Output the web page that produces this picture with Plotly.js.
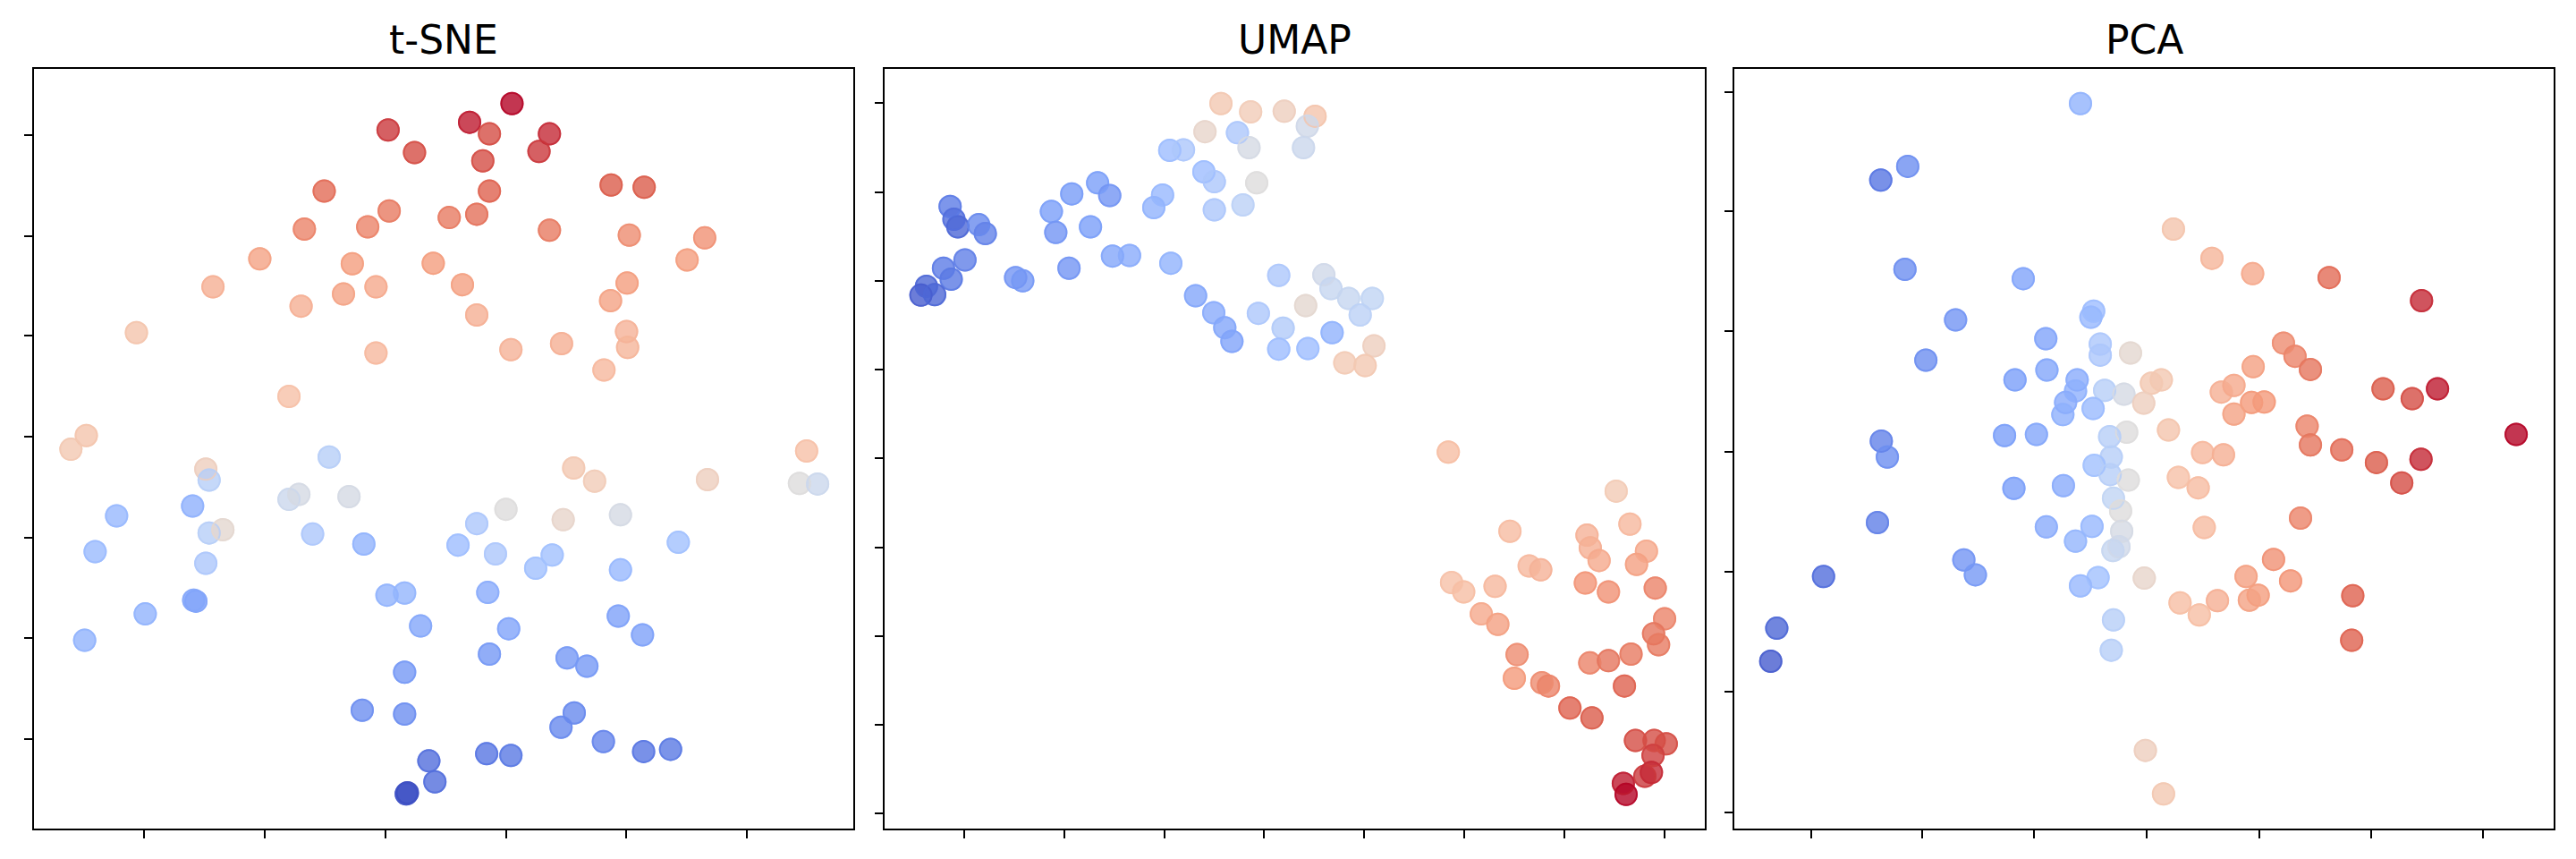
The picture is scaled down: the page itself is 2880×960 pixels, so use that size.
<!DOCTYPE html>
<html>
<head>
<meta charset="utf-8">
<script src="https://cdn.plot.ly/plotly-3.0.1.min.js"></script>
<style>
  html, body { margin: 0; padding: 0; background: #fff; }
  #plot { width: 2880px; height: 960px; }
</style>
</head>
<body>
<div id="plot"></div>
<script>
// embedding coordinates (arbitrary units, no tick labels)
// colour value is the shared 0..1 variable mapped through coolwarm

var tsneX = [93.0,85.3,70.5,88.9,99.8,75.3,97.9,87.7,58.9,88.9,111.0,117.0,70.7,81.6,86.6,55.3,66.8,99.8,114.3,128.0,
  47.2,64.0,78.7,124.8,38.7,68.3,84.0,113.9,62.4,54.7,110.9,86.6,24.8,113.8,114.0,68.3,92.8,102.0,109.7,52.5,
  15.7,12.9,146.5,59.8,37.4,38.0,104.2,108.0,128.5,145.2,148.5,52.5,54.3,63.4,35.0,21.2,91.9,102.3,112.7,86.6,
  38.0,40.5,56.8,66.1,17.3,83.2,90.0,100.3,123.2,37.4,97.3,112.7,35.6,26.4,70.3,73.5,88.6,15.4,76.4,92.4,
  112.3,116.7,88.9,103.0,106.6,73.5,65.8,73.5,104.3,101.9,109.6,116.9,121.8,88.4,92.8,77.9,79.0,74.0,35.2,73.8];
var tsneY = [-18.8,-22.2,-23.6,-24.3,-24.3,-27.7,-27.5,-29.2,-34.7,-34.7,-33.6,-34.0,-38.3,-39.5,-38.9,-41.6,-41.2,-41.8,-42.7,-43.2,
  -47.0,-47.9,-47.8,-47.2,-52.1,-52.1,-51.7,-51.4,-53.4,-55.6,-54.6,-57.2,-60.4,-60.2,-63.1,-64.1,-63.5,-62.4,-67.2,-72.0,
  -79.1,-81.6,-81.9,-83.0,-85.2,-87.2,-85.0,-87.4,-87.1,-87.8,-87.9,-90.7,-89.8,-90.2,-91.9,-93.7,-92.5,-94.4,-93.5,-95.1,
  -96.8,-96.2,-97.0,-98.8,-100.2,-99.0,-100.6,-100.8,-98.5,-102.3,-103.2,-103.5,-109.2,-111.5,-108.1,-107.7,-107.6,-116.3,-113.7,-114.2,
  -111.9,-115.3,-118.8,-119.5,-121.0,-122.1,-129.0,-129.7,-129.5,-132.1,-134.7,-136.5,-136.1,-136.9,-137.2,-138.2,-142.0,-144.0,-109.0,-144.2];
var tsneC = [1.0,0.97,0.93,0.9,0.95,0.9,0.93,0.9,0.85,0.87,0.88,0.88,0.82,0.82,0.84,0.8,0.8,0.82,0.78,0.77,
  0.72,0.74,0.74,0.74,0.68,0.7,0.73,0.74,0.72,0.68,0.72,0.68,0.6,0.67,0.66,0.65,0.67,0.68,0.65,0.62,
  0.6,0.58,0.62,0.42,0.55,0.42,0.58,0.56,0.55,0.5,0.46,0.46,0.48,0.48,0.32,0.35,0.5,0.53,0.48,0.4,
  0.42,0.52,0.4,0.33,0.36,0.37,0.4,0.38,0.38,0.4,0.38,0.35,0.27,0.33,0.33,0.34,0.3,0.33,0.28,0.27,
  0.26,0.26,0.23,0.23,0.23,0.23,0.2,0.2,0.18,0.18,0.17,0.12,0.13,0.12,0.13,0.1,0.1,0.0,0.28,0.02];

var umapX = [65.8,71.2,77.3,82.9,81.5,62.9,68.8,70.9,80.8,56.5,59.0,62.7,64.6,72.3,55.2,53.6,64.6,69.8,16.6,17.3,
  18.0,21.8,23.0,35.0,38.7,43.4,45.6,35.8,42.1,19.3,15.4,16.8,12.3,11.3,13.8,28.5,29.8,38.2,46.1,49.2,
  56.7,61.2,64.5,66.5,67.8,76.3,84.5,85.8,89.0,93.3,72.6,81.2,91.1,77.1,86.0,76.3,81.6,93.6,88.3,92.0,
  107.1,137.6,118.3,140.1,132.3,132.9,143.1,134.5,121.8,123.9,141.3,107.7,109.9,115.6,132.0,136.2,144.7,113.1,116.1,146.4,
  144.4,145.3,119.6,132.8,136.2,140.3,119.1,124.1,125.3,139.1,129.2,133.2,141.1,144.5,146.7,144.3,138.9,142.8,144.0,139.4];
var umapY = [-18.8,-20.3,-20.2,-21.1,-22.9,-23.9,-24.1,-26.8,-26.8,-27.3,-27.2,-31.2,-33.0,-33.2,-35.4,-37.7,-38.1,-37.2,-37.5,-39.8,
  -41.2,-40.8,-42.4,-38.4,-35.2,-33.2,-35.5,-42.2,-41.2,-47.2,-48.7,-50.7,-52.0,-53.6,-53.5,-50.4,-51.0,-48.7,-46.5,-46.4,
  -47.8,-53.7,-56.8,-59.5,-62.0,-50.0,-49.9,-52.4,-54.2,-54.2,-56.9,-55.5,-57.2,-59.6,-60.4,-63.4,-63.3,-62.8,-65.9,-66.4,
  -82.1,-89.2,-96.5,-95.2,-97.2,-99.5,-100.1,-101.8,-102.8,-103.5,-102.5,-105.8,-107.5,-106.5,-105.9,-107.5,-106.8,-111.5,-113.4,-112.4,
  -115.1,-117.1,-118.9,-120.4,-120.0,-118.8,-123.2,-124.0,-124.6,-124.6,-128.6,-130.4,-134.5,-134.5,-135.1,-137.2,-142.3,-141.0,-140.3,-144.3];
var umapC = [0.58,0.56,0.55,0.6,0.47,0.53,0.4,0.48,0.46,0.37,0.4,0.37,0.4,0.5,0.35,0.33,0.4,0.43,0.14,0.1,
  0.08,0.18,0.16,0.25,0.24,0.25,0.22,0.22,0.25,0.15,0.14,0.13,0.08,0.05,0.08,0.22,0.23,0.22,0.28,0.3,
  0.33,0.28,0.3,0.28,0.27,0.4,0.47,0.45,0.45,0.44,0.4,0.52,0.43,0.41,0.33,0.37,0.37,0.55,0.57,0.58,
  0.63,0.57,0.64,0.65,0.67,0.68,0.7,0.7,0.65,0.67,0.73,0.62,0.63,0.65,0.76,0.77,0.8,0.7,0.73,0.8,
  0.83,0.82,0.78,0.8,0.83,0.82,0.75,0.78,0.8,0.87,0.87,0.88,0.9,0.9,0.9,0.92,0.97,0.93,0.95,1.0];

var pcaX = [66.0,34.6,29.7,82.9,89.9,97.3,111.2,34.1,55.6,128.0,68.4,67.9,43.3,59.7,69.6,69.6,75.1,102.9,105.0,107.8,
  37.9,59.9,97.4,54.1,65.4,65.1,70.4,73.9,78.9,80.7,91.6,93.9,121.0,130.9,126.3,63.3,62.8,68.3,77.5,97.1,
  99.4,93.9,74.4,82.0,71.3,107.2,145.2,29.8,30.9,52.2,58.0,71.6,68.5,71.4,74.7,88.2,92.0,107.8,113.5,119.8,
  127.9,124.4,83.8,87.4,53.9,62.9,72.0,73.3,29.1,59.8,68.1,65.1,73.5,73.0,71.9,88.5,106.0,44.8,46.9,19.3,
  69.2,66.0,77.6,101.1,96.1,104.2,98.3,96.7,90.9,84.1,87.6,115.5,72.0,10.8,71.6,115.3,9.7,77.8,81.1];
var pcaY = [-18.8,-30.2,-32.7,-41.6,-46.9,-49.7,-50.4,-48.9,-50.6,-54.6,-56.5,-57.6,-58.1,-61.5,-62.5,-64.5,-64.1,-62.3,-64.7,-67.1,
  -65.4,-67.2,-66.6,-69.0,-69.0,-71.0,-70.9,-71.6,-69.6,-69.0,-71.2,-70.0,-70.6,-70.6,-72.4,-73.1,-75.3,-74.2,-73.2,-73.1,
  -73.0,-75.2,-78.5,-78.1,-79.3,-77.4,-78.9,-80.1,-83.0,-79.1,-78.9,-83.0,-84.5,-86.2,-87.2,-82.2,-82.6,-80.8,-81.7,-84.0,
  -83.4,-87.7,-86.7,-88.6,-88.7,-88.2,-90.5,-92.8,-94.9,-95.7,-95.6,-98.3,-96.5,-99.3,-100.0,-95.8,-94.1,-101.7,-104.4,-104.7,
  -104.9,-106.4,-105.0,-101.6,-104.7,-105.5,-108.1,-109.0,-109.1,-109.5,-111.7,-108.2,-112.6,-114.1,-118.1,-116.3,-120.1,-136.3,-144.2];
var pcaC = [0.33,0.2,0.12,0.6,0.66,0.7,0.85,0.2,0.27,0.95,0.37,0.35,0.22,0.27,0.4,0.4,0.52,0.78,0.8,0.83,
  0.2,0.28,0.73,0.25,0.3,0.32,0.42,0.48,0.58,0.58,0.68,0.7,0.88,0.97,0.9,0.3,0.32,0.36,0.55,0.75,
  0.75,0.72,0.5,0.6,0.42,0.8,1.0,0.16,0.2,0.25,0.28,0.42,0.38,0.42,0.5,0.65,0.68,0.83,0.85,0.88,
  0.95,0.9,0.62,0.64,0.25,0.3,0.44,0.5,0.15,0.3,0.35,0.34,0.48,0.47,0.45,0.64,0.8,0.22,0.23,0.1,
  0.38,0.35,0.53,0.77,0.73,0.76,0.74,0.72,0.68,0.63,0.63,0.87,0.42,0.08,0.42,0.87,0.05,0.55,0.58];

var panelTitles = ['t-SNE', 'UMAP', 'PCA'];

// axis extents and tick positions (unlabelled ticks, like the reference)
var xRanges = [[6.2, 155.0], [4.7, 153.7], [3.1, 152.0]];
var yRange = [-150.5, -12.5];
var xTicks = [
  [26.1, 48.1, 70.0, 91.9, 113.8, 135.7],
  [19.2, 37.3, 55.5, 73.6, 91.8, 110.0, 128.2, 146.4],
  [17.0, 37.2, 57.6, 78.0, 98.5, 118.8, 139.1]
];
var yTicks = [
  [-24.6, -42.9, -61.0, -79.3, -97.6, -115.9, -134.2],
  [-18.7, -34.9, -51.1, -67.1, -83.2, -99.4, -115.5, -131.6, -147.7],
  [-16.7, -38.3, -60.2, -82.0, -103.8, -125.7, -147.5]
];

var coolwarm = [
  [0.0, '#3b4cc0'], [0.125, '#5977e3'], [0.25, '#7b9ff9'], [0.375, '#9ebeff'],
  [0.4375, '#c0d4f5'], [0.5, '#dddcdc'], [0.5625, '#f2cbb7'], [0.625, '#f6bfa6'],
  [0.75, '#f49a7b'], [0.875, '#dd604d'], [1.0, '#b40426']
];

var xDomains = [[0.0132, 0.3313], [0.3434, 0.6618], [0.6733, 0.9913]];
var yDomain = [0.0354, 0.9198];

var allX = [tsneX, umapX, pcaX];
var allY = [tsneY, umapY, pcaY];
var allC = [tsneC, umapC, pcaC];

var data = [];
var layout = {
  width: 2880,
  height: 960,
  margin: {l: 0, r: 0, t: 0, b: 0},
  paper_bgcolor: '#fff',
  plot_bgcolor: '#fff',
  showlegend: false,
  font: {family: 'DejaVu Sans', color: '#000'},
  annotations: []
};

for (let i = 0; i < 3; i++) {
  let sfx = i === 0 ? '' : String(i + 1);
  // filled dots
  data.push({
    type: 'scatter',
    mode: 'markers',
    x: allX[i],
    y: allY[i],
    xaxis: 'x' + sfx,
    yaxis: 'y' + sfx,
    hoverinfo: 'skip',
    marker: {
      size: 26,
      color: allC[i],
      colorscale: coolwarm,
      cmin: 0,
      cmax: 1,
      opacity: 0.8,
      line: {width: 0}
    }
  });
  // same-colour edge ring (matplotlib draws the edge with the face colour and alpha)
  data.push({
    type: 'scatter',
    mode: 'markers',
    x: allX[i],
    y: allY[i],
    xaxis: 'x' + sfx,
    yaxis: 'y' + sfx,
    hoverinfo: 'skip',
    marker: {
      symbol: 'circle-open',
      size: 24,
      color: allC[i],
      colorscale: coolwarm,
      cmin: 0,
      cmax: 1,
      opacity: 0.8,
      line: {width: 2}
    }
  });
  let axisCommon = {
    showgrid: false,
    zeroline: false,
    showline: true,
    mirror: true,
    linecolor: '#000',
    linewidth: 2,
    ticks: 'outside',
    ticklen: 9,
    tickwidth: 2,
    tickcolor: '#000',
    showticklabels: false,
    tickmode: 'array'
  };
  layout['xaxis' + sfx] = Object.assign({}, axisCommon, {
    domain: xDomains[i],
    range: xRanges[i],
    tickvals: xTicks[i],
    anchor: 'y' + sfx
  });
  layout['yaxis' + sfx] = Object.assign({}, axisCommon, {
    domain: yDomain,
    range: yRange,
    tickvals: yTicks[i],
    anchor: 'x' + sfx
  });
  layout.annotations.push({
    xref: 'paper',
    yref: 'paper',
    x: (xDomains[i][0] + xDomains[i][1]) / 2,
    y: 0.925,
    xanchor: 'center',
    yanchor: 'bottom',
    text: panelTitles[i],
    showarrow: false,
    font: {family: 'DejaVu Sans', size: 44, color: '#000'}
  });
}

Plotly.newPlot('plot', data, layout, {staticPlot: true});
</script>
</body>
</html>
